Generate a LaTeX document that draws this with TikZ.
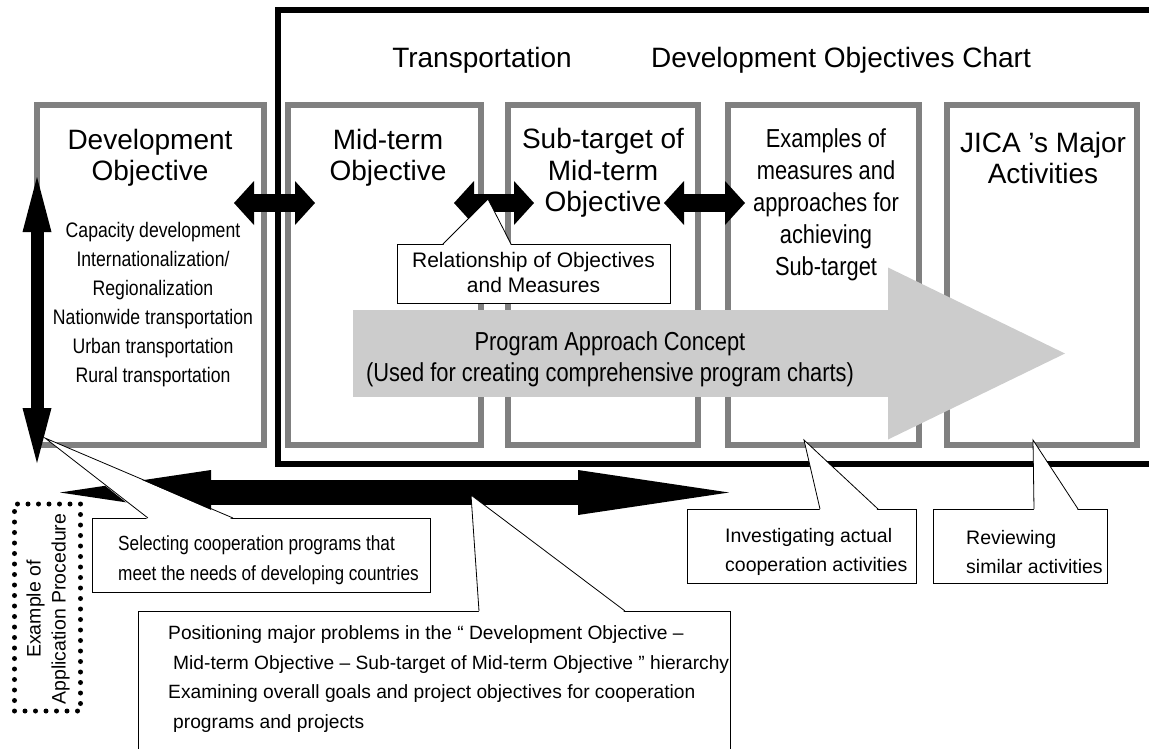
\documentclass[tikz,border=0pt]{standalone}
\usepackage{fontspec}
\setmainfont{Liberation Sans}
\newfontfamily\narrowfont[FakeStretch=0.84]{Liberation Sans}
\usetikzlibrary{positioning, calc, arrows.meta}

\definecolor{boxgray}{RGB}{128,128,128}
\definecolor{arrowgray}{RGB}{204,204,204}

\tikzset{
  graybox/.style={draw=boxgray, line width=6pt, minimum height=340pt, inner sep=0pt},
  framebox/.style={draw=black, line width=6pt},
  titletext/.style={font=\fontsize{28}{31.5}\selectfont, align=center, inner sep=0pt},
  listtext/.style={font=\narrowfont\fontsize{21}{29}\selectfont, align=center, inner sep=0pt},
  smalltext/.style={font=\fontsize{21}{25}\selectfont, align=center, inner sep=0pt},
  notetext/.style={font=\fontsize{19.5}{29.5}\selectfont, align=left, inner sep=0pt, anchor=west},
  callbox/.style={draw, fill=white, line width=0.8pt, inner sep=0pt},
  pointer/.style={draw, line width=0.8pt},
  dotbox/.style={draw, line width=5pt, line cap=round, dash pattern=on 0pt off 10.5pt, inner sep=0pt},
  blockarrow/.style={line width=18pt,
    {Triangle[length=20pt,width=44pt,line width=0pt]}-{Triangle[length=20pt,width=44pt,line width=0pt]}},
  vertarrow/.style={line width=13pt,
    {Triangle[length=55pt,width=29pt,line width=0pt]}-{Triangle[length=55pt,width=29pt,line width=0pt]}},
  longarrow/.style={line width=25pt,
    {Triangle[length=151pt,width=45pt,line width=0pt]}-{Triangle[length=151pt,width=45pt,line width=0pt]}},
  grayarrow/.style={draw=arrowgray, line width=87pt,
    -{Triangle[length=177pt,width=172pt,line width=0pt]}}
}

\begin{document}
\begin{tikzpicture}[x=1pt, y=-1pt]
\useasboundingbox (0,0) rectangle (1149,748);

% chart columns
\node[graybox, minimum width=227pt] (devobj) at (150,275) {};
\node[graybox, minimum width=193pt] (midterm) at (384.5,275) {};
\node[graybox, minimum width=190pt] (subtarget) at (603,275) {};
\node[graybox, minimum width=191pt] (measures) at (823.5,275) {};
\node[graybox, minimum width=190pt] (jica) at (1042,275) {};

% transportation frame
\draw[framebox] (278,10) rectangle (1165,464);
\node[titletext] (transp) at (482,60) {Transportation};
\node[titletext] (chart) at (841,60) {Development Objectives Chart};

% program approach concept
\coordinate (pa-start) at (353,353.5);
\coordinate (pa-end) at (1065,353.5);
\draw[grayarrow] (pa-start) -- (pa-end);
\node[listtext, font=\narrowfont\fontsize{26}{31}\selectfont] (approach) at (610,359)
  {Program Approach Concept\\(Used for creating comprehensive program charts)};

% column titles
\node[titletext] (devobj-title) at (150,158) {Development\\Objective};
\node[listtext] (devobj-list) at (153,305) {Capacity development\\Internationalization/\\Regionalization\\Nationwide transportation\\Urban transportation\\Rural transportation};
\node[titletext] (midterm-title) at (388,158) {Mid-term\\Objective};
\node[titletext] (subtarget-title) at (603,173) {Sub-target of\\Mid-term\\Objective};
\node[listtext, font=\narrowfont\fontsize{26}{32}\selectfont] (measures-title) at (826,205)
  {Examples of\\measures and\\approaches for\\achieving\\Sub-target};
\node[titletext] (jica-title) at (1043,158) {JICA ’s Major\\Activities};

% arrows between columns
\coordinate (a1-l) at (234,203);
\coordinate (a1-r) at (315,203);
\coordinate (a2-l) at (454,203);
\coordinate (a2-r) at (534,203);
\coordinate (a3-l) at (664,203);
\coordinate (a3-r) at (745,203);
\draw[blockarrow] (a1-l) -- (a1-r);
\draw[blockarrow] (a2-l) -- (a2-r);
\draw[blockarrow] (a3-l) -- (a3-r);

% vertical and bottom arrows
\coordinate (v-top) at (37,177);
\coordinate (v-bot) at (37,463);
\draw[vertarrow] (v-top) -- (v-bot);
\coordinate (b-left) at (60,492.5);
\coordinate (b-right) at (729,492.5);
\draw[longarrow] (b-left) -- (b-right);

% callout: relationship
\node[callbox, minimum width=273pt, minimum height=59pt] (relation) at (533.5,273.5) {};
\coordinate (relation-tip) at (488,199);
\fill[white] (443,245.5) -- (relation-tip) -- (511,245.5) -- cycle;
\draw[pointer] (443,244) -- (relation-tip) -- (511,244);
\node[smalltext] (relation-text) at (533.5,272.5) {Relationship of Objectives\\and Measures};

% callout: selecting
\node[callbox, minimum width=338pt, minimum height=74pt] (selecting) at (261,555) {};
\coordinate (selecting-tip) at (45,438);
\fill[white] (148,519.5) -- (selecting-tip) -- (233,519.5) -- cycle;
\draw[pointer] (148,518) -- (selecting-tip) -- (233,518);
\node[notetext, font=\narrowfont\fontsize{20.5}{30}\selectfont] (selecting-text) at (118,560)
  {Selecting cooperation programs that\\meet the needs of developing countries};

% callout: positioning
\node[callbox, minimum width=592pt, minimum height=160pt] (positioning) at (434,691) {};
\coordinate (positioning-tip) at (471,495);
\fill[white] (479,612.5) -- (positioning-tip) -- (625,612.5) -- cycle;
\draw[pointer] (479,611) -- (positioning-tip) -- (625,611);
\node[notetext, font=\fontsize{19.2}{29.6}\selectfont] (positioning-text) at (168,679)
  {Positioning major problems in the “ Development Objective –\\
   \hspace*{5pt}Mid-term Objective – Sub-target of Mid-term Objective ” hierarchy\\
   Examining overall goals and project objectives for cooperation\\
   \hspace*{5pt}programs and projects};

% callout: investigating
\node[callbox, minimum width=229pt, minimum height=74pt] (investigating) at (801.5,546) {};
\coordinate (investigating-tip) at (804,440);
\fill[white] (820,510.5) -- (investigating-tip) -- (878,510.5) -- cycle;
\draw[pointer] (820,509) -- (investigating-tip) -- (878,509);
\node[notetext] (investigating-text) at (725,552) {Investigating actual\\cooperation activities};

% callout: reviewing
\node[callbox, minimum width=174pt, minimum height=74pt] (reviewing) at (1020,546) {};
\coordinate (reviewing-tip) at (1033,440);
\fill[white] (1034,510.5) -- (reviewing-tip) -- (1078,510.5) -- cycle;
\draw[pointer] (1034,509) -- (reviewing-tip) -- (1078,509);
\node[notetext] (reviewing-text) at (966,552) {Reviewing\\similar activities};

% application procedure
\node[dotbox, minimum width=66pt, minimum height=207pt] (procedure) at (47.5,607.5) {};
\node[font=\fontsize{19.5}{25}\selectfont, align=center, inner sep=0pt, rotate=90] (procedure-text) at (48,609)
  {Example of\\Application Procedure};
\end{tikzpicture}
\end{document}
